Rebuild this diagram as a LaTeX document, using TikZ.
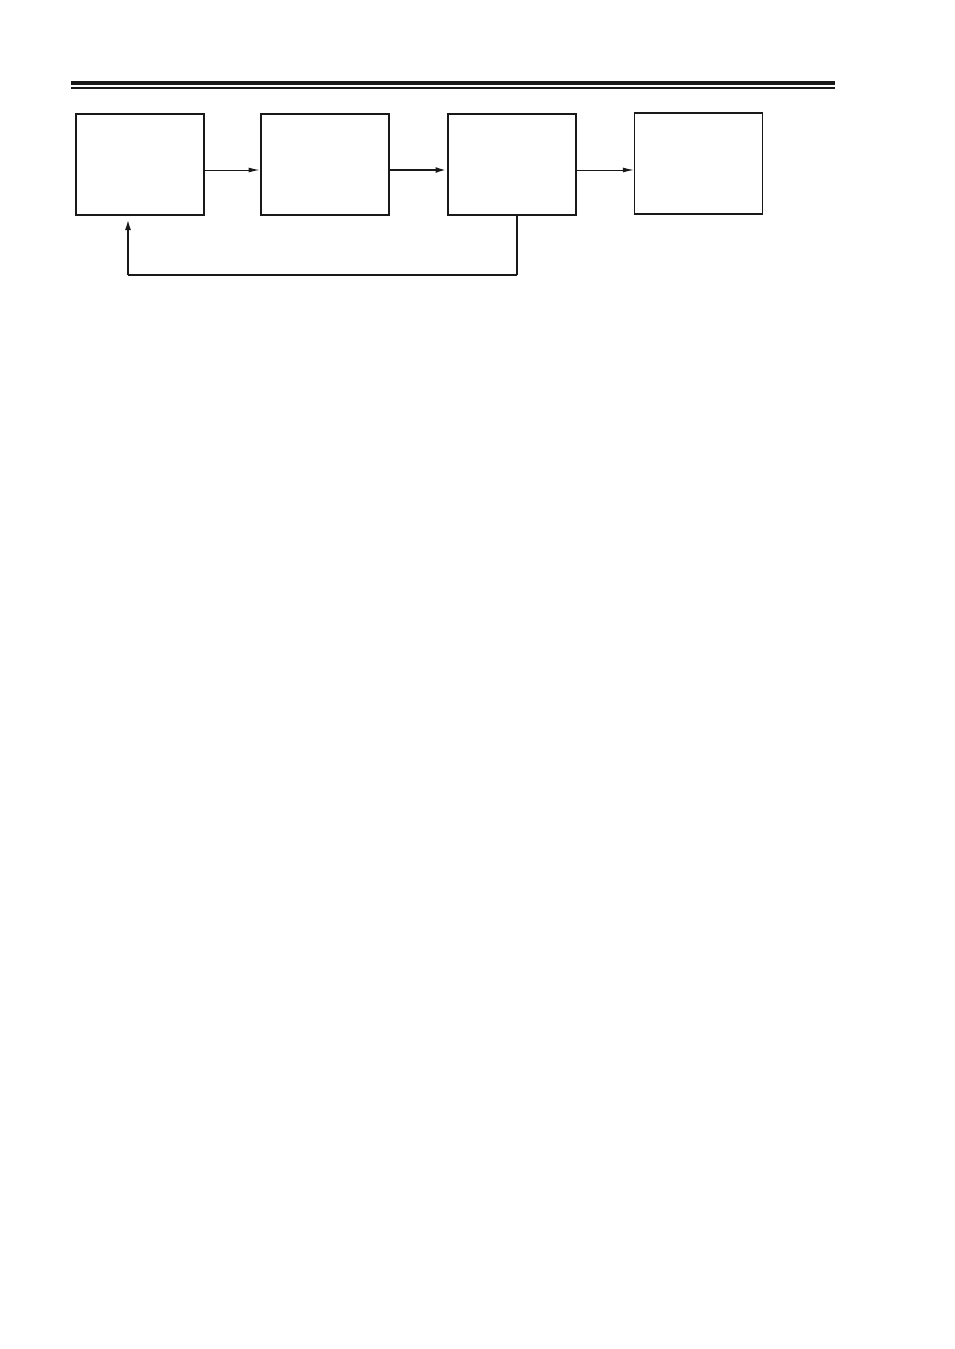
\documentclass[tikz,border=0pt]{standalone}
\usetikzlibrary{arrows.meta}
\begin{document}
\begin{tikzpicture}[x=1pt,y=-1pt,
  blk/.style={draw=black!90,line width=2pt,fill=none},
  blkthin/.style={draw=black!90,line width=1.4pt,fill=none},
  arr/.style={-{Latex[length=11pt,width=5pt]},draw=black!90,line width=1pt},
  arrthick/.style={-{Latex[length=11pt,width=6pt]},draw=black!90,line width=2pt},
  fb/.style={draw=black!90,line width=2pt}]
\useasboundingbox (0,0) rectangle (954,1349);
\fill[white] (0,0) rectangle (954,1349);
% header rules
\draw[line width=4pt,black!90] (71,83) -- (835,83);
\draw[line width=1.6pt,black!90] (71,88) -- (835,88);
% boxes
\node[blk,minimum width=128pt,minimum height=101pt,inner sep=0pt] (b1) at (140,164.5) {};
\node[blk,minimum width=128pt,minimum height=101pt,inner sep=0pt] (b2) at (324.5,164.5) {};
\node[blk,minimum width=128pt,minimum height=101pt,inner sep=0pt] (b3) at (511.5,164) {};
\node[blkthin,minimum width=128pt,minimum height=101pt,inner sep=0pt] (b4) at (698.5,163.5) {};
% arrows
\draw[arr] (b1.east |- 0,170) -- (b2.west |- 0,170);
\draw[arrthick] (b2.east |- 0,170) -- (b3.west |- 0,170);
\draw[arr] (b3.east |- 0,170) -- (b4.west |- 0,170);
% feedback
\coordinate (c1) at (517,275);
\coordinate (c2) at (128,275);
\coordinate (c3) at (128,219);
\draw[line width=1.3pt,black!90] (b3.south -| 517,0) -- (c1);
\draw[fb] (c1) -- (c2);
\draw[arrthick] (c2) -- (c3);
\end{tikzpicture}
\end{document}
